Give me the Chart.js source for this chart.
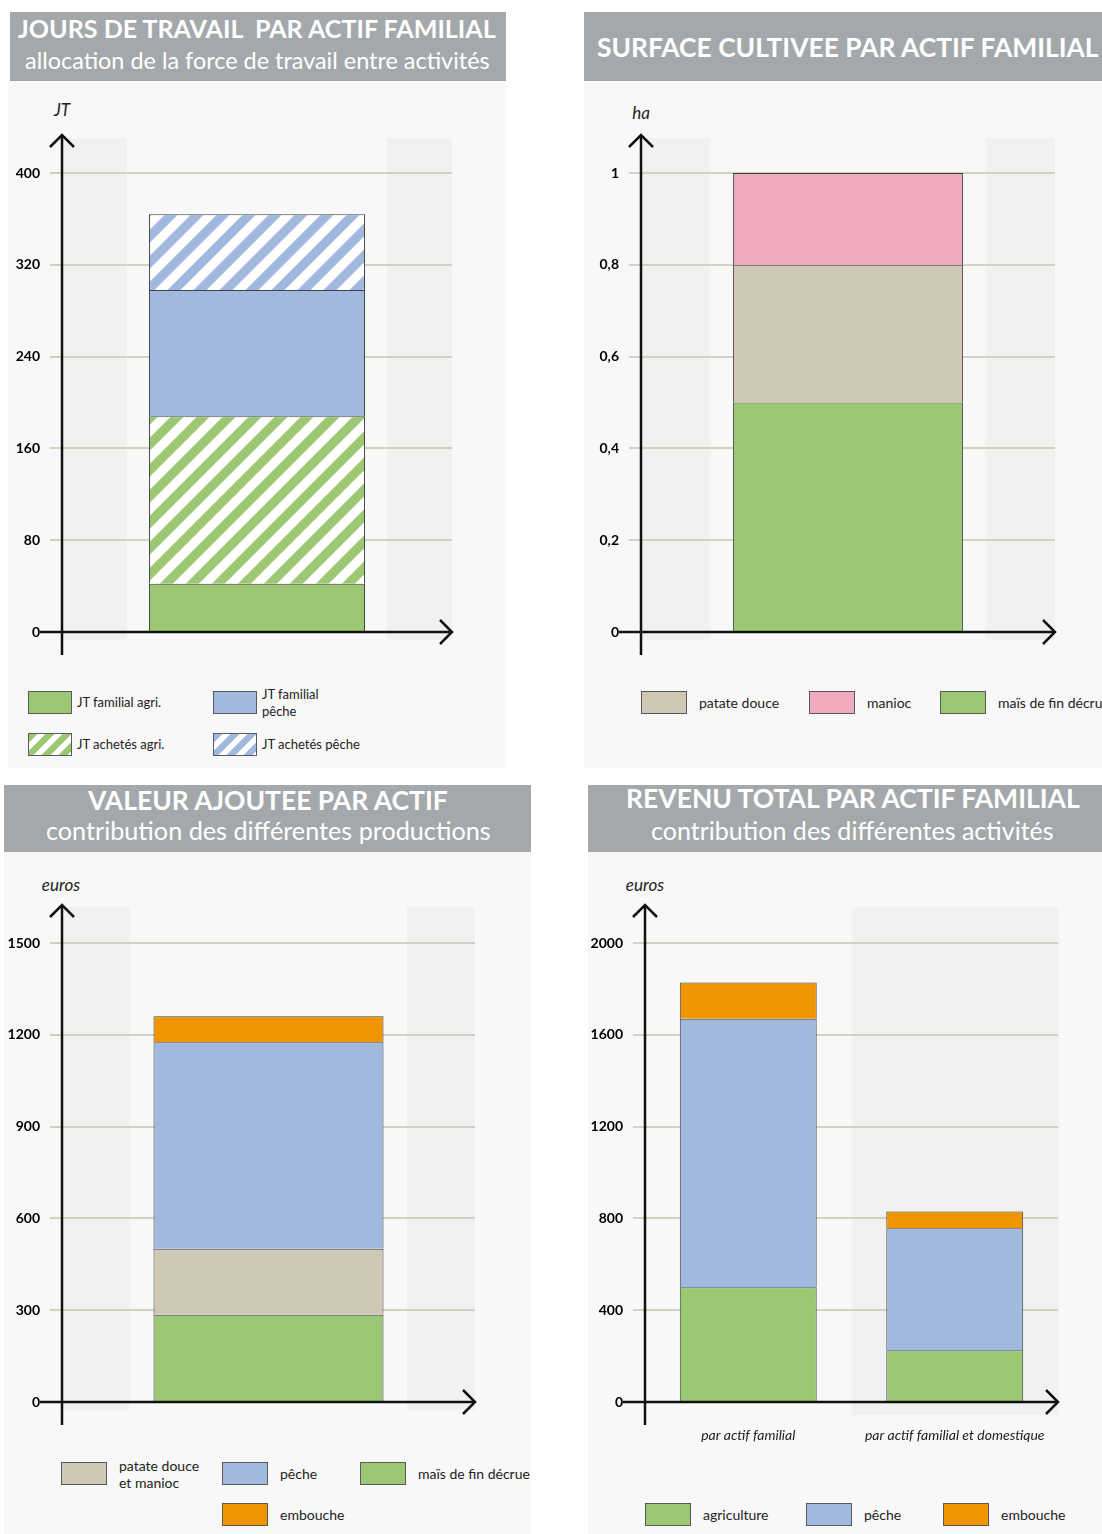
<!DOCTYPE html>
<html lang="fr">
<head>
<meta charset="utf-8">
<title>Actifs familiaux</title>
<script src="https://cdn.jsdelivr.net/npm/chart.js@4.4.1/dist/chart.umd.min.js"></script>
<style>
  body { margin: 0; width: 1102px; height: 1534px; position: relative; overflow: hidden; background: #fff; font-family: Lato, "Open Sans", sans-serif; color: #222; }
  .panel { position: absolute; background: #f8f8f8; }
  .banner { position: absolute; background: #a5a8aa; }
  .txt { position: absolute; white-space: pre; line-height: 1; color: #fff; }
  .unit { position: absolute; font-style: italic; font-size: 17px; line-height: 1; transform: translateX(-50%); }
  .leg { position: absolute; display: flex; align-items: center; height: 23px; }
  .leg .box { box-sizing: border-box; height: 23px; border: 1px solid #5a5a5a; flex: none; }
  .leg .lab { white-space: pre; line-height: 17px; }
  canvas { position: absolute; }
</style>
</head>
<body>
<div class="panel" style="left:8px;top:81px;width:498px;height:687px"></div>
<div class="panel" style="left:584px;top:81px;width:518px;height:687px"></div>
<div class="panel" style="left:4px;top:852px;width:527px;height:682px"></div>
<div class="panel" style="left:588px;top:852px;width:514px;height:682px"></div>

<div class="banner" style="left:10px;top:12px;width:496px;height:69px"></div>
<div class="banner" style="left:584px;top:12px;width:518px;height:69px"></div>
<div class="banner" style="left:4px;top:785px;width:527px;height:67px"></div>
<div class="banner" style="left:588px;top:785px;width:514px;height:67px"></div>

<div id="t1" class="txt" style="font-weight:700">JOURS DE TRAVAIL  PAR ACTIF FAMILIAL</div>
<div id="s1" class="txt" style="font-weight:400">allocation de la force de travail entre activités</div>
<div id="t2" class="txt" style="font-weight:700">SURFACE CULTIVEE PAR ACTIF FAMILIAL</div>
<div id="t3" class="txt" style="font-weight:700">VALEUR AJOUTEE PAR ACTIF</div>
<div id="s3" class="txt" style="font-weight:400">contribution des différentes productions</div>
<div id="t4" class="txt" style="font-weight:700">REVENU TOTAL PAR ACTIF FAMILIAL</div>
<div id="s4" class="txt" style="font-weight:400">contribution des différentes activités</div>

<div class="unit" style="left:62px;top:101px">JT</div>
<div class="unit" style="left:641px;top:104px">ha</div>
<div class="unit" style="left:61px;top:876px">euros</div>
<div class="unit" style="left:645px;top:876px">euros</div>

<canvas id="c1" width="506" height="582" style="left:0px;top:100px"></canvas>
<canvas id="c2" width="523" height="582" style="left:579px;top:100px"></canvas>
<canvas id="c3" width="531" height="582" style="left:0px;top:870px"></canvas>
<canvas id="c4" width="519" height="582" style="left:583px;top:870px"></canvas>

<div id="legends"></div>

<script>
// jours de travail par actif familial
var jtCategories = [""];
var jtTicks = [0, 80, 160, 240, 320, 400];
var jtLabels = ["JT familial agri.", "JT achetés agri.", "JT familial\npêche", "JT achetés pêche"];
var jtFamilialAgri = [42];
var jtAchetesAgri = [146];
var jtFamilialPeche = [110];
var jtAchetesPeche = [66];

// surface cultivee (ha)
var haCategories = [""];
var haTicks = [0, 0.2, 0.4, 0.6, 0.8, 1];
var haLabels = ["maïs de fin décrue", "patate douce", "manioc"];
var haMais = [0.5];
var haPatate = [0.3];
var haManioc = [0.2];

// valeur ajoutee (euros)
var vaCategories = [""];
var vaTicks = [0, 300, 600, 900, 1200, 1500];
var vaLabels = ["maïs de fin décrue", "patate douce\net manioc", "pêche", "embouche"];
var vaMais = [285];
var vaPatateManioc = [216];
var vaPeche = [675];
var vaEmbouche = [85];

// revenu total (euros)
var revCategories = ["par actif familial", "par actif familial et domestique"];
var revTicks = [0, 400, 800, 1200, 1600, 2000];
var revLabels = ["agriculture", "pêche", "embouche"];
var revAgri = [500, 225];
var revPeche = [1170, 532];
var revEmbouche = [158, 73];

var GREEN = "#9cc873", BLUE = "#a1b8df", TAN = "#cec8b5", PINK = "#efaabe", ORANGE = "#f09500";
var GRID = "#d5d1bf";

// titles: fit width to the banner text extents
function place(id, x0, x1, cy, k) {
  var el = document.getElementById(id);
  el.style.fontSize = "20px";
  var w = el.getBoundingClientRect().width;
  var fs = 20 * (x1 - x0) / w;
  el.style.fontSize = fs + "px";
  el.style.left = x0 + "px";
  el.style.top = (cy - k * fs) + "px";
}
place("t1", 18, 496, 29, 0.51);
place("s1", 25, 490, 62, 0.56);
place("t2", 597, 1099, 47, 0.51);
place("t3", 88, 448, 800, 0.51);
place("s3", 46, 491, 832, 0.56);
place("t4", 626, 1080, 799, 0.51);
place("s4", 651, 1054, 832, 0.56);

function hatch(color) {
  var p = 26;
  var c = document.createElement("canvas");
  c.width = p; c.height = p;
  var g = c.getContext("2d");
  g.fillStyle = "#fff";
  g.fillRect(0, 0, p, p);
  g.strokeStyle = color;
  g.lineWidth = p / (2 * Math.SQRT2);
  g.beginPath();
  [0, p, 2 * p].forEach(function (k) {
    g.moveTo(-p, k + p);
    g.lineTo(2 * p, k - 2 * p);
  });
  g.stroke();
  return g.createPattern(c, "repeat");
}

function cssHatch(color) {
  return "repeating-linear-gradient(135deg, " + color + " 0 6px, #fff 6px 12px)";
}

var arrowAxes = {
  id: "arrowAxes",
  beforeDraw: function (chart, args, o) {
    var a = chart.chartArea, ctx = chart.ctx;
    ctx.save();
    ctx.fillStyle = "#f1f1f1";
    if (o.band !== undefined) {
      var xs = chart.scales.x;
      var half = (a.right - a.left) / chart.data.labels.length / 2;
      var cx = xs.getPixelForValue(o.band);
      ctx.fillRect(cx - half, a.top - o.up, half * 2 + 1, a.bottom - a.top + o.up + o.down);
    } else {
      ctx.fillRect(a.left, a.top - o.up, o.side, a.bottom - a.top + o.up + o.down);
      ctx.fillRect(a.right - o.side, a.top - o.up, o.side, a.bottom - a.top + o.up + o.down);
    }
    ctx.restore();
  },
  afterDraw: function (chart) {
    var a = chart.chartArea, ctx = chart.ctx;
    var y0 = chart.scales.y.getPixelForValue(0);
    ctx.save();
    ctx.strokeStyle = "#111";
    ctx.lineWidth = 2.5;
    ctx.beginPath();
    ctx.moveTo(a.left, a.bottom + 23);
    ctx.lineTo(a.left, a.top - 38);
    ctx.moveTo(a.left - 22, y0);
    ctx.lineTo(a.right, y0);
    ctx.stroke();
    ctx.beginPath();
    ctx.moveTo(a.left - 12, a.top - 26);
    ctx.lineTo(a.left, a.top - 38);
    ctx.lineTo(a.left + 12, a.top - 26);
    ctx.moveTo(a.right - 12, y0 - 12);
    ctx.lineTo(a.right, y0);
    ctx.lineTo(a.right - 12, y0 + 12);
    ctx.stroke();
    ctx.restore();
  }
};

function fmt(v) {
  return String(+Number(v).toFixed(2)).replace(".", ",");
}

function makeChart(id, labels, datasets, ticks, cfg) {
  var ctx = document.getElementById(id).getContext("2d");
  return new Chart(ctx, {
    type: "bar",
    data: { labels: labels, datasets: datasets },
    options: {
      responsive: false,
      animation: false,
      layout: { padding: { top: 73, right: cfg.right, bottom: 0, left: 0 } },
      datasets: { bar: { barPercentage: 1, categoryPercentage: cfg.frac, borderColor: "#3f4343", borderWidth: 1 } },
      plugins: { legend: { display: false }, tooltip: { enabled: false }, arrowAxes: cfg.shade },
      scales: {
        x: {
          stacked: true,
          grid: { display: false, drawTicks: false },
          border: { display: false },
          ticks: { display: !!cfg.xLabels, padding: 25, color: "#222", font: { family: "Lato", style: "italic", size: 14 } },
          afterFit: function (s) { s.height = 50; }
        },
        y: {
          stacked: true,
          min: ticks[0],
          max: ticks[ticks.length - 1],
          grid: { color: GRID, lineWidth: 2, drawTicks: true, tickLength: 12, tickColor: GRID },
          border: { display: false },
          ticks: { stepSize: ticks[1] - ticks[0], padding: 10, color: "#000", font: { family: "Lato", weight: "bold", size: 14 }, callback: fmt },
          afterFit: function (s) { s.width = 62; }
        }
      }
    },
    plugins: [arrowAxes]
  });
}

var jtSets = [
  { label: jtLabels[0], data: jtFamilialAgri, backgroundColor: GREEN, css: GREEN },
  { label: jtLabels[1], data: jtAchetesAgri, backgroundColor: hatch(GREEN), css: cssHatch(GREEN) },
  { label: jtLabels[2], data: jtFamilialPeche, backgroundColor: BLUE, css: BLUE },
  { label: jtLabels[3], data: jtAchetesPeche, backgroundColor: hatch(BLUE), css: cssHatch(BLUE) }
];
var haSets = [
  { label: haLabels[0], data: haMais, backgroundColor: GREEN, css: GREEN },
  { label: haLabels[1], data: haPatate, backgroundColor: TAN, css: TAN },
  { label: haLabels[2], data: haManioc, backgroundColor: PINK, css: PINK }
];
var vaSets = [
  { label: vaLabels[0], data: vaMais, backgroundColor: GREEN, css: GREEN },
  { label: vaLabels[1], data: vaPatateManioc, backgroundColor: TAN, css: TAN },
  { label: vaLabels[2], data: vaPeche, backgroundColor: BLUE, css: BLUE },
  { label: vaLabels[3], data: vaEmbouche, backgroundColor: ORANGE, css: ORANGE }
];
var revSets = [
  { label: revLabels[0], data: revAgri, backgroundColor: GREEN, css: GREEN },
  { label: revLabels[1], data: revPeche, backgroundColor: BLUE, css: BLUE },
  { label: revLabels[2], data: revEmbouche, backgroundColor: ORANGE, css: ORANGE }
];

makeChart("c1", jtCategories, jtSets, jtTicks, { right: 54, frac: 0.554, shade: { side: 65, up: 35, down: 8 } });
makeChart("c2", haCategories, haSets, haTicks, { right: 47, frac: 0.556, shade: { side: 69, up: 35, down: 8 } });
makeChart("c3", vaCategories, vaSets, vaTicks, { right: 56, frac: 0.557, shade: { side: 68, up: 36, down: 8 } });
makeChart("c4", revCategories, revSets, revTicks, { right: 44, frac: 0.663, xLabels: true, shade: { band: 1, up: 36, down: 13 } });

// legends: [dataset, box x, box y]
function legend(sets, items, boxW, gap, size) {
  var host = document.getElementById("legends");
  items.forEach(function (it) {
    var ds = sets[it[0]];
    var d = document.createElement("div");
    d.className = "leg";
    d.style.left = it[1] + "px";
    d.style.top = it[2] + "px";
    d.style.fontSize = size + "px";
    var b = document.createElement("div");
    b.className = "box";
    b.style.width = boxW + "px";
    b.style.background = ds.css;
    var l = document.createElement("div");
    l.className = "lab";
    l.style.marginLeft = gap + "px";
    l.textContent = ds.label;
    d.appendChild(b);
    d.appendChild(l);
    host.appendChild(d);
  });
}
legend(jtSets, [[0, 28, 691], [2, 213, 691], [1, 28, 733], [3, 213, 733]], 44, 5, 13);
legend(haSets, [[1, 641, 691], [2, 809, 691], [0, 940, 691]], 46, 12, 14);
legend(vaSets, [[1, 61, 1462], [2, 222, 1462], [0, 360, 1462], [3, 222, 1503]], 46, 12, 14);
legend(revSets, [[0, 645, 1503], [1, 806, 1503], [2, 943, 1503]], 46, 12, 14);
</script>
</body>
</html>
